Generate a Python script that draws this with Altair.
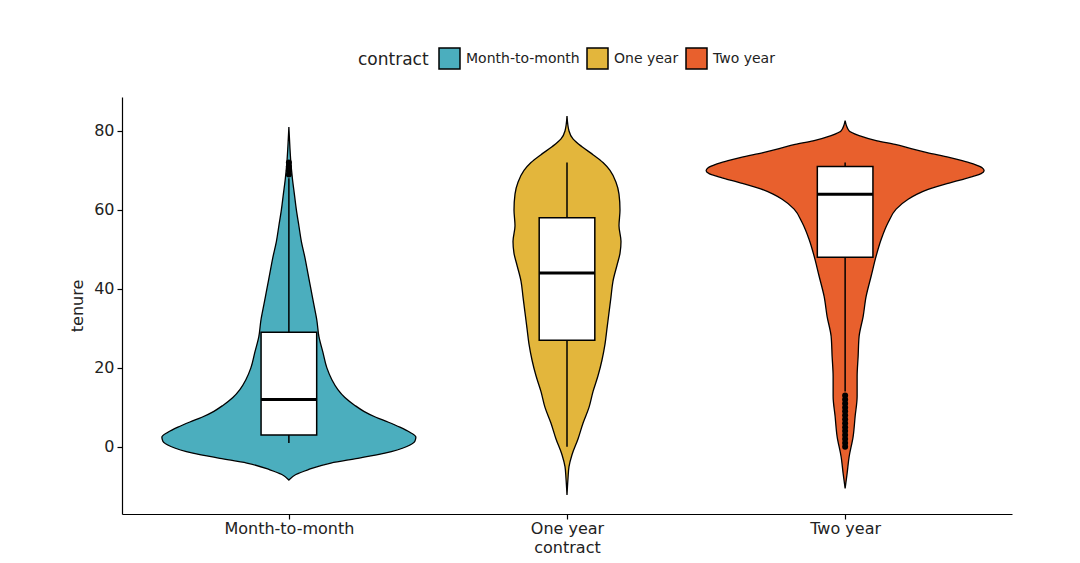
import altair as alt
import pandas as pd

categories = ["Month-to-month", "One year", "Two year"]
colors = ["#4BAEBE", "#E3B63C", "#E8602D"]

# violin outlines: tenure values and half-widths (px at 278 px per category unit)
mtm_tenure = [-8.4, -7, -5.8, -4.1, -2.9, -1.6, 0.1, 1.4, 2.5, 3.7, 5, 6.3, 7.5, 9, 10.5, 12.5, 14.5, 17, 20,
              24, 28, 32, 36, 40, 44, 48, 52, 56, 60, 64, 68, 72, 76, 81]
mtm_width = [0, 7, 19, 42, 69, 96, 118, 126, 127, 121, 111, 99, 87, 75, 66, 56, 49, 43, 38,
             34, 30, 28, 25, 22, 19, 16, 12.5, 10, 7.5, 5.5, 3.5, 2, 1, 0]

one_tenure = [-12.2, -8, -5, -2, 2, 6, 10, 14, 18, 22, 26, 30, 34, 38, 42, 46, 49, 52, 56, 60, 64, 67,
              70, 72, 74, 76, 78, 80, 83.8]
one_width = [0, 1, 2, 5, 11, 16, 22, 26, 31, 35, 38, 40, 42, 44, 46, 50, 53, 54, 52, 53, 52, 49,
             43, 36, 26, 15, 6, 2, 0]

two_tenure = [-10.5, -6.7, -2.5, 2.6, 7.7, 12.8, 17.8, 22.9, 28, 33, 38.1, 43.2, 48.3, 52.5, 56.8, 60.2,
              62.7, 64, 65.2, 66.8, 67.7, 68.5, 69.2, 69.9, 70.7, 71.5, 72.4, 73.3, 74.5, 75.5, 76.6,
              77.5, 78.8, 80, 82.6]
two_width = [0, 2, 4, 8, 10, 12, 12, 13, 14, 18, 21, 26, 31, 36, 43, 51,
             63, 72, 83, 104, 117, 128, 136, 139, 137, 130, 118, 104, 82, 66, 50,
             32, 14, 4, 0]

# box plot statistics
q1 = [3, 27, 48]
median = [12, 44, 64]
q3 = [29, 58, 71]
whisker_lo = [1, 0, 14]
whisker_hi = [68, 72, 72]
outliers_mtm = [69, 70, 71, 72]
outliers_one = []
outliers_two = [0, 1, 2, 3, 4, 5, 6, 7, 8, 9, 10, 11, 12, 13]

PX_PER_UNIT = 890 / 3.2
BOX_HALF = 0.1

rows = []
for i, (cat, ts, ws) in enumerate(zip(categories,
                                      [mtm_tenure, one_tenure, two_tenure],
                                      [mtm_width, one_width, two_width])):
    c = i + 1
    for t, w in zip(ts, ws):
        hw = w / PX_PER_UNIT
        rows.append({"contract": cat, "tenure": t, "lo": c - hw, "hi": c + hw})
violin_df = pd.DataFrame(rows)

box_df = pd.DataFrame({
    "contract": categories,
    "c": [1, 2, 3],
    "left": [c - BOX_HALF for c in [1, 2, 3]],
    "right": [c + BOX_HALF for c in [1, 2, 3]],
    "q1": q1, "median": median, "q3": q3,
    "wlo": whisker_lo, "whi": whisker_hi,
})

out_rows = []
for i, outs in enumerate([outliers_mtm, outliers_one, outliers_two]):
    for v in outs:
        out_rows.append({"c": i + 1, "tenure": v})
out_df = pd.DataFrame(out_rows)

xscale = alt.Scale(domain=[0.4, 3.6], nice=False, zero=False)
yscale = alt.Scale(domain=[-17, 88.6], nice=False, zero=False)

label_expr = " : ".join(
    [f"datum.value == {i+1} ? '{c}'" for i, c in enumerate(categories[:-1])]
) + f" : '{categories[-1]}'"

x_axis = alt.Axis(values=[1, 2, 3], labelExpr=label_expr, title="contract", grid=False)
y_axis = alt.Axis(values=[0, 20, 40, 60, 80], title="tenure", grid=False)

violin = alt.Chart(violin_df).mark_area(
    orient="horizontal", interpolate="monotone", stroke="black", strokeWidth=1.3, opacity=1
).encode(
    y=alt.Y("tenure:Q", scale=yscale, axis=y_axis),
    x=alt.X("lo:Q", scale=xscale, axis=x_axis, stack=None),
    x2="hi:Q",
    fill=alt.Fill("contract:N", scale=alt.Scale(domain=categories, range=colors),
                  legend=alt.Legend(
                      title="contract", orient="none", direction="horizontal",
                      titleOrient="left", legendX=236, legendY=-50,
                      symbolType="square", symbolSize=441, symbolStrokeColor="black",
                      symbolStrokeWidth=1.5, symbolOpacity=1,
                      labelFontSize=14, titleFontSize=17, titleFontWeight="normal",
                      labelOffset=5, columnPadding=4, titlePadding=9,
                      titleBaseline="middle", titleAnchor="middle",
                      labelColor="#222", titleColor="#222",
                  )),
)

whisk_low = alt.Chart(box_df).mark_rule(color="black", strokeWidth=1.5).encode(
    x=alt.X("c:Q", scale=xscale), y=alt.Y("wlo:Q", scale=yscale), y2="q1:Q"
)
whisk_high = alt.Chart(box_df).mark_rule(color="black", strokeWidth=1.5).encode(
    x=alt.X("c:Q", scale=xscale), y=alt.Y("q3:Q", scale=yscale), y2="whi:Q"
)
boxes = alt.Chart(box_df).mark_rect(fill="white", stroke="black", strokeWidth=1.5).encode(
    x=alt.X("left:Q", scale=xscale), x2="right:Q",
    y=alt.Y("q1:Q", scale=yscale), y2="q3:Q"
)
medians = alt.Chart(box_df).mark_rule(color="black", strokeWidth=3).encode(
    x=alt.X("left:Q", scale=xscale), x2="right:Q",
    y=alt.Y("median:Q", scale=yscale)
)
points = alt.Chart(out_df).mark_circle(color="black", size=36, opacity=1).encode(
    x=alt.X("c:Q", scale=xscale), y=alt.Y("tenure:Q", scale=yscale)
)

chart = alt.layer(violin, whisk_low, whisk_high, boxes, medians, points).properties(
    width=890, height=417,
    autosize=alt.AutoSizeParams(type="none"),
    padding={"left": 114, "top": 89, "right": 60, "bottom": 45},
).configure_view(stroke=None).configure_axis(
    domainColor="black", domainWidth=1.2, tickColor="black", tickSize=5, tickWidth=1.2,
    labelFont="DejaVu Sans", titleFont="DejaVu Sans",
    labelFontSize=16, titleFontSize=16, labelColor="#222", titleColor="#222",
    titleFontWeight="normal", labelPadding=3,
).configure_axisX(titlePadding=3, labelPadding=1).configure_axisY(titlePadding=8).configure_legend(
    labelFont="DejaVu Sans", titleFont="DejaVu Sans"
)

chart.save("out.html", embed_options={"renderer": "svg", "actions": False})
